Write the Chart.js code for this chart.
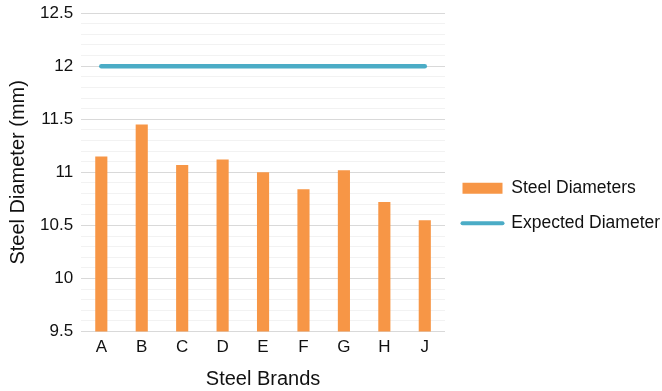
<!DOCTYPE html>
<html>
<head>
<meta charset="utf-8">
<script src="https://cdn.jsdelivr.net/npm/chart.js@4/dist/chart.umd.min.js"></script>
<style>
  html, body { margin: 0; padding: 0; background: #fff; }
  #wrap { width: 662px; height: 391px; }
</style>
</head>
<body>
<div id="wrap"><canvas id="c"></canvas></div>
<script>
const brands = ['A', 'B', 'C', 'D', 'E', 'F', 'G', 'H', 'J'];
const steelDiameters = [11.15, 11.45, 11.07, 11.12, 11.00, 10.84, 11.02, 10.72, 10.55];
const expectedDiameter = [12, 12, 12, 12, 12, 12, 12, 12, 12];
const yMin = 9.5, yMax = 12.5, yStep = 0.1;

const FONT = 'Liberation Sans, Arial, sans-serif';
const ORANGE = '#F79646';
const BLUE = '#4BACC6';
const TEXT = '#111';

const isMajor = v => Math.abs(Math.round(v * 10) % 5) === 0;

new Chart(document.getElementById('c'), {
  data: {
    labels: brands,
    datasets: [
      {
        type: 'bar',
        label: 'Steel Diameters',
        data: steelDiameters,
        backgroundColor: ORANGE,
        borderWidth: 0,
        barPercentage: 0.3,
        categoryPercentage: 1,
        pointStyle: 'rect',
        order: 2
      },
      {
        type: 'line',
        label: 'Expected Diameter',
        data: expectedDiameter,
        borderColor: BLUE,
        backgroundColor: BLUE,
        borderWidth: 4.5,
        borderCapStyle: 'round',
        pointRadius: 0,
        pointHoverRadius: 0,
        pointStyle: 'line',
        order: 1
      }
    ]
  },
  options: {
    responsive: true,
    maintainAspectRatio: false,
    animation: false,
    layout: { padding: { left: 6, right: 0, top: 0, bottom: 0 } },
    plugins: {
      tooltip: { enabled: false },
      legend: {
        position: 'right',
        maxWidth: 217,
        title: { display: true, text: ' ', padding: 0, font: { size: 17 } },
        labels: {
          font: { family: FONT, size: 17.5 },
          color: TEXT,
          usePointStyle: true,
          pointStyleWidth: 40,
          boxHeight: 11,
          padding: 17.5,
          sort: (a, b) => a.datasetIndex - b.datasetIndex,
          generateLabels(chart) {
            const items = Chart.defaults.plugins.legend.labels.generateLabels(chart);
            return items.map(it => {
              const ds = chart.data.datasets[it.datasetIndex];
              if (ds.type === 'line') {
                return Object.assign(it, { fillStyle: BLUE, strokeStyle: BLUE, lineWidth: 4, lineCap: 'round', pointStyle: 'line' });
              }
              return Object.assign(it, { fillStyle: ORANGE, strokeStyle: ORANGE, lineWidth: 0, pointStyle: 'rect' });
            });
          }
        }
      }
    },
    scales: {
      x: {
        grid: { display: false },
        border: { display: false },
        ticks: { font: { family: FONT, size: 17 }, color: TEXT, padding: -2 },
        title: { display: true, text: 'Steel Brands', font: { family: FONT, size: 20 }, color: TEXT, padding: { top: 11, bottom: 0 } }
      },
      y: {
        min: yMin,
        max: yMax,
        border: { display: false },
        grid: {
          drawTicks: false,
          lineWidth: 1,
          color: ctx => isMajor(ctx.tick.value) ? '#D9D9D9' : '#F2F2F2'
        },
        ticks: {
          stepSize: yStep,
          maxTicksLimit: 40,
          autoSkip: false,
          padding: 8,
          font: { family: FONT, size: 17, lineHeight: 0.6 },
          color: TEXT,
          callback: v => isMajor(v) ? String(Math.round(v * 10) / 10) : ''
        },
        title: { display: true, text: 'Steel Diameter (mm)', font: { family: FONT, size: 20 }, color: TEXT, padding: { top: 0, bottom: 2 } }
      }
    }
  }
});
</script>
</body>
</html>
